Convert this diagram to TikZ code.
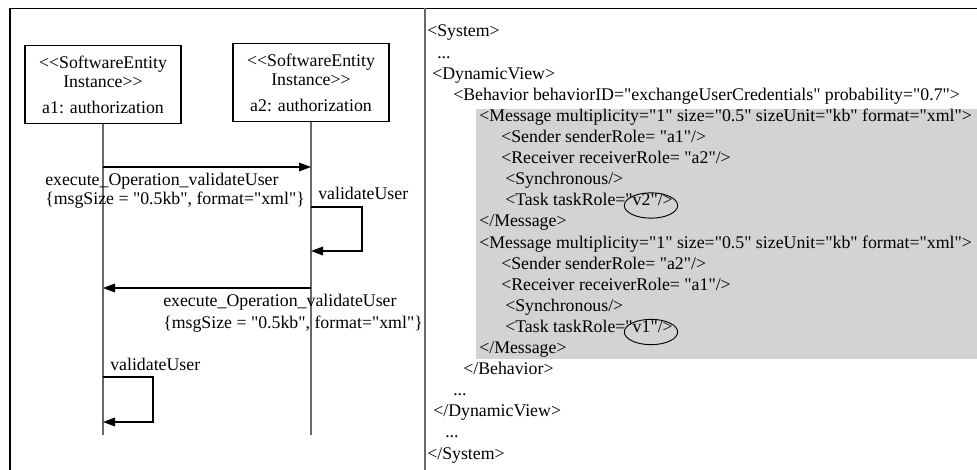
\documentclass[tikz,border=0pt]{standalone}
\usepackage{fontspec}
\setmainfont{Liberation Serif}[Ligatures=TeXOff]
\usetikzlibrary{arrows.meta,positioning,calc,shapes.geometric}
\definecolor{xmlgray}{RGB}{211,211,211}
\definecolor{linegray}{RGB}{105,105,105}
\tikzset{
  entity/.style={
    draw,
    line width=0.8pt,
    minimum width=117pt,
    minimum height=59pt,
    inner sep=0pt,
    align=center,
    font=\fontsize{13.35}{14.3}\selectfont
  },
  lifeline/.style={draw=linegray, line width=0.9pt},
  msg/.style={-{Triangle[length=9pt,width=6.5pt]}, line width=0.8pt},
  lbl/.style={
    anchor=base west,
    inner sep=0pt,
    align=left,
    font=\fontsize{13.35}{14.5}\selectfont
  },
  xml/.style={anchor=base west, inner sep=0pt, font=\fontsize{13.35}{16}\selectfont},
  ring/.style={draw, ellipse, line width=0.7pt, minimum width=40pt, minimum height=19pt, inner sep=0pt},
  frame/.style={line width=1.2pt}
}

\begin{document}
\begin{tikzpicture}[x=0.75pt, y=-0.75pt]
  \useasboundingbox (0,0) rectangle (977,470);
  % frame and divider
  \coordinate (ftl) at (10,8.5);
  \coordinate (ftr) at (977,8.5);
  \coordinate (fbl) at (10,470);
  \coordinate (dtop) at (425,8.5);
  \coordinate (dbot) at (425,470);
  \draw[frame] (fbl) -- (ftl) -- (ftr);
  \draw[frame, linegray] (dtop) -- (dbot);

  % sequence diagram
  \node[entity] (a1) at (103,84.5) {<{}<SoftwareEntity\\Instance>{}>\\[5pt]a1: authorization};
  \node[entity] (a2) at (311,82.5) {<{}<SoftwareEntity\\Instance>{}>\\[5pt]a2: authorization};
  \coordinate (a1end) at (103,435);
  \coordinate (a2end) at (311,435);
  \draw[lifeline] (a1) -- (a1end);
  \draw[lifeline] (a2) -- (a2end);

  \coordinate (s1) at (103,167);
  \coordinate (r1) at (311,167);
  \coordinate (s2) at (311,207);
  \coordinate (r2) at (311,251);
  \coordinate (s3) at (311,288);
  \coordinate (r3) at (103,288);
  \coordinate (s4) at (103,377);
  \coordinate (r4) at (103,422);

  \draw[msg] (s1) -- (r1);
  \node[lbl] (call1) at (45,205) {execute\_Operation\_validateUser\\\{msgSize = "0.5kb", format="xml"\}};
  \draw[msg] (s2) -- ++(51,0) |- (r2);
  \node[lbl] (self2) at (318,200) {validateUser};
  \draw[msg] (s3) -- (r3);
  \node[lbl] (call2) at (163,328) {execute\_Operation\_validateUser\\[1.5pt]\{msgSize = "0.5kb", format="xml"\}};
  \draw[msg] (s4) -- ++(50,0) |- (r4);
  \node[lbl] (self1) at (110,370) {validateUser};

  % xml description
  \fill[xmlgray] (476,109) rectangle (977,359);
  \node[xml] (x1) at (427,37) {<System>};
  \node[xml] (x2) at (437,58.1) {...};
  \node[xml] (x3) at (432,79.2) {<DynamicView>};
  \node[xml] (x4) at (453,100.3) {<Behavior behaviorID="exchangeUserCredentials" probability="0.7">};
  \node[xml] (x5) at (479,121.4) {<Message multiplicity="1" size="0.5" sizeUnit="kb" format="xml">};
  \node[xml] (x6) at (501,142.5) {<Sender senderRole= "a1"/>};
  \node[xml] (x7) at (501,163.6) {<Receiver receiverRole= "a2"/>};
  \node[xml] (x8) at (505,184.7) {<Synchronous/>};
  \node[xml] (x9) at (505,205.8) {<Task taskRole="v2"/>};
  \node[xml] (x10) at (479,226.9) {</Message>};
  \node[xml] (x11) at (479,248) {<Message multiplicity="1" size="0.5" sizeUnit="kb" format="xml">};
  \node[xml] (x12) at (501,269.1) {<Sender senderRole= "a2"/>};
  \node[xml] (x13) at (501,290.2) {<Receiver receiverRole= "a1"/>};
  \node[xml] (x14) at (505,311.3) {<Synchronous/>};
  \node[xml] (x15) at (505,332.4) {<Task taskRole="v1"/>};
  \node[xml] (x16) at (479,353.5) {</Message>};
  \node[xml] (x17) at (463,374.6) {</Behavior>};
  \node[xml] (x18) at (453,395.7) {...};
  \node[xml] (x19) at (433,416.8) {</DynamicView>};
  \node[xml] (x20) at (445,437.9) {...};
  \node[xml] (x21) at (427,459) {</System>};
  \node[ring] (v2) at (651,205.5) {};
  \node[ring] (v1) at (651,332) {};
\end{tikzpicture}
\end{document}
